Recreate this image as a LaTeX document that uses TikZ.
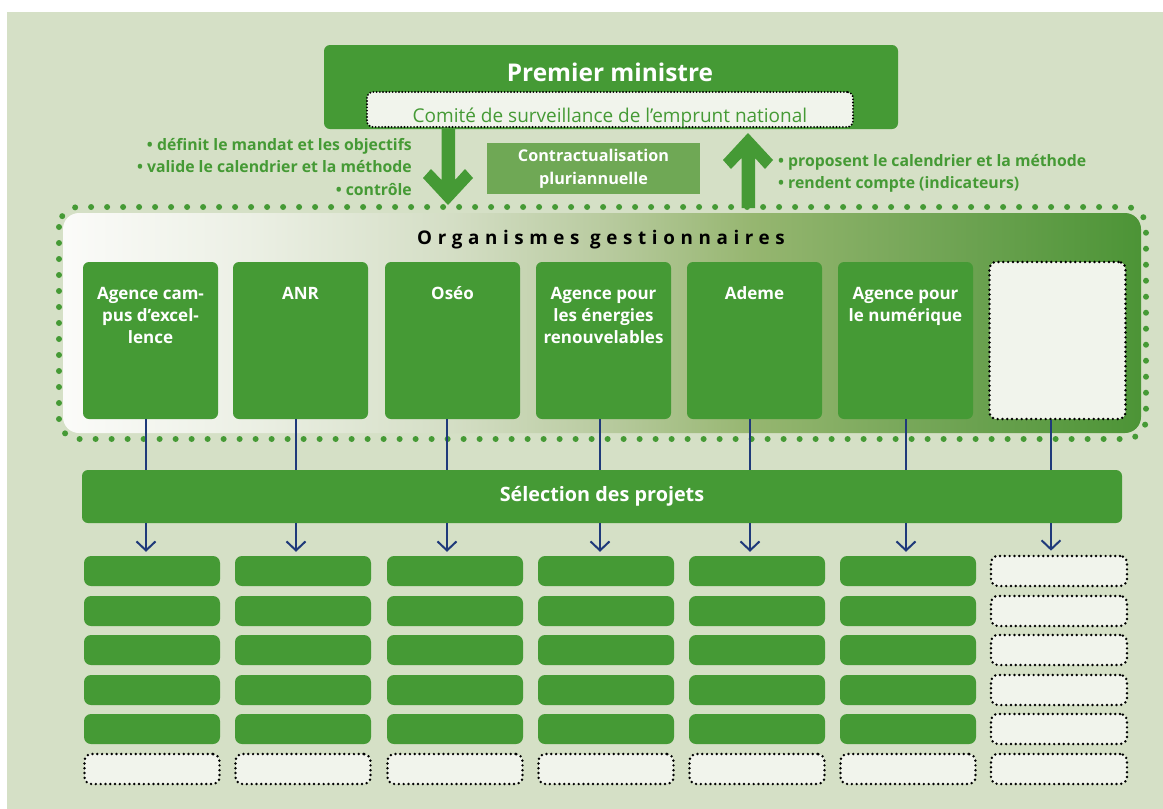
\documentclass[tikz,border=0pt]{standalone}
\usepackage{fontspec}
\setmainfont{Open Sans}
\usetikzlibrary{arrows.meta}
\definecolor{bg}{RGB}{213,224,198}
\definecolor{gr}{RGB}{69,154,53}
\definecolor{lgr}{RGB}{111,168,85}
\definecolor{pale}{RGB}{241,244,236}
\definecolor{navy}{RGB}{31,58,122}
\definecolor{sA}{RGB}{251,251,249}
\definecolor{sB}{RGB}{236,240,229}
\definecolor{sC}{RGB}{212,222,197}
\definecolor{sD}{RGB}{185,203,160}
\definecolor{sE}{RGB}{150,182,112}
\definecolor{sF}{RGB}{112,164,84}
\definecolor{sG}{RGB}{76,148,54}
\pgfdeclarehorizontalshading{orgshade}{100bp}{color(0bp)=(sA); color(25bp)=(sA); color(33.5bp)=(sB); color(43bp)=(sC); color(50bp)=(sD); color(57bp)=(sE); color(66bp)=(sF); color(75bp)=(sG); color(100bp)=(sG)}
\tikzset{
  gbox/.style={fill=gr, draw=none, rounded corners=6pt, inner sep=0pt},
  agbox/.style={gbox, minimum width=135pt, minimum height=157pt},
  emptybox/.style={fill=pale, draw=black, line width=2.7pt, dash pattern=on 0pt off 4.8pt, line cap=round, rounded corners=7pt, inner sep=0pt},
  smallbox/.style={gbox, rounded corners=7pt, minimum width=136pt, minimum height=30pt},
  smallempty/.style={emptybox, minimum width=135pt, minimum height=30pt},
  agtext/.style={anchor=north, inner sep=0pt, align=center, text=white, font=\fontsize{17}{22}\selectfont\bfseries},
  bl/.style={draw=navy, line width=2pt},
  bla/.style={bl, -{Straight Barb[length=9pt, width=19pt, line width=2pt]}},
  bullet/.style={text=gr, inner sep=0pt, font=\fontsize{15.8}{22.5}\selectfont\bfseries},
  bigarrow/.style={fill=gr, draw=none},
}
\begin{document}
\begin{tikzpicture}[x=1pt, y=-1pt]
\useasboundingbox (0,0) rectangle (1163,809);
\fill[bg] (7,12) rectangle (1163,809);

% Premier ministre
\node[gbox, minimum width=574pt, minimum height=84pt] (pm) at (611,87) {};
\node[text=white, inner sep=0pt, font=\fontsize{24.4}{28}\selectfont\bfseries] (pmt) at (610,72) {Premier ministre};
\node[emptybox, rounded corners=6pt, dash pattern=on 0pt off 3.2pt, line width=2.1pt, minimum width=486pt, minimum height=35pt, text height=26pt, text depth=1pt, text=gr, font=\fontsize{19}{22}\selectfont] (cs) at (610,109.5) {Comité de surveillance de l’emprunt national};

% big arrows
\path[bigarrow] (441.5,129) -- (455,129) -- (455,180) -- (465,169) -- (473,178) -- (448,205) -- (423,178) -- (431,169) -- (441.5,180) -- cycle;
\path[bigarrow] (741.5,208) -- (755,208) -- (755,158) -- (765,169) -- (773,160) -- (748,133) -- (723,160) -- (731,169) -- (741.5,158) -- cycle;

% texts
\node[bullet, anchor=east, align=right] (lt) at (412,167) {• définit le mandat et les objectifs\\• valide le calendrier et la méthode\\• contrôle};
\node[bullet, anchor=west, align=left] (rt) at (778,173.5) {• proposent le calendrier et la méthode\\• rendent compte (indicateurs)};
\node[fill=lgr, minimum width=213pt, minimum height=51pt, inner sep=0pt, align=center, text=white, font=\fontsize{16.2}{23}\selectfont\bfseries] (ct) at (593.5,168.5) {Contractualisation\\pluriannuelle};

% organismes panel
\shade[shading=orgshade, rounded corners=16pt] (63,213) rectangle (1141,433);
\draw[gr, line width=6pt, dash pattern=on 0pt off 16pt, line cap=round, rounded corners=20pt] (59,207) rectangle (1146,439);
\node[inner sep=0pt, font=\fontsize{18.8}{20}\selectfont\bfseries\addfontfeature{LetterSpace=30}] (og) at (601,240) {Organismes gestionnaires};

\node[agbox] (a1) at (150.5,340.5) {};
\node[agbox] (a2) at (300.5,340.5) {};
\node[agbox] (a3) at (452.5,340.5) {};
\node[agbox] (a4) at (603.5,340.5) {};
\node[agbox] (a5) at (754.5,340.5) {};
\node[agbox] (a6) at (905.5,340.5) {};
\node[emptybox, minimum width=136pt, minimum height=157pt] (a7) at (1057.5,340.5) {};

\node[agtext] (t1) at ([yshift=-22pt]a1.north) {\strut Agence cam-\\pus d’excel-\\lence};
\node[agtext] (t2) at ([yshift=-22pt]a2.north) {\strut ANR};
\node[agtext] (t3) at ([yshift=-22pt]a3.north) {\strut Oséo};
\node[agtext] (t4) at ([yshift=-22pt]a4.north) {\strut Agence pour\\les énergies\\renouvelables};
\node[agtext] (t5) at ([yshift=-22pt]a5.north) {\strut Ademe};
\node[agtext] (t6) at ([yshift=-22pt]a6.north) {\strut Agence pour\\le numérique};

% selection
\node[gbox, minimum width=1040pt, minimum height=53pt, text=white, font=\fontsize{19.8}{22}\selectfont\bfseries] (sel) at (602,496.5) {Sélection des projets};

% small boxes
\foreach \c/\x in {1/152,2/303,3/455,4/606,5/757,6/908}{
  \foreach \r/\y in {1/571,2/611,3/650,4/690,5/729}{
    \node[smallbox] (r\c\r) at (\x,\y) {};
  }
  \node[smallempty] (r\c6) at (\x,769) {};
}
\foreach \r/\y in {1/571,2/611,3/650,4/690,5/729,6/769}{
  \node[smallempty, minimum width=136pt] (r7\r) at (1059,\y) {};
}

% connectors
\foreach \i/\x in {1/146,2/296,3/447,4/600,5/750,6/906,7/1051}{
  \coordinate (x\i) at (\x,0);
  \draw[bl] (a\i.south -| x\i) -- (sel.north -| x\i);
  \draw[bla] (sel.south -| x\i) -- ([yshift=4pt]r\i1.north -| x\i);
}
\end{tikzpicture}
\end{document}
